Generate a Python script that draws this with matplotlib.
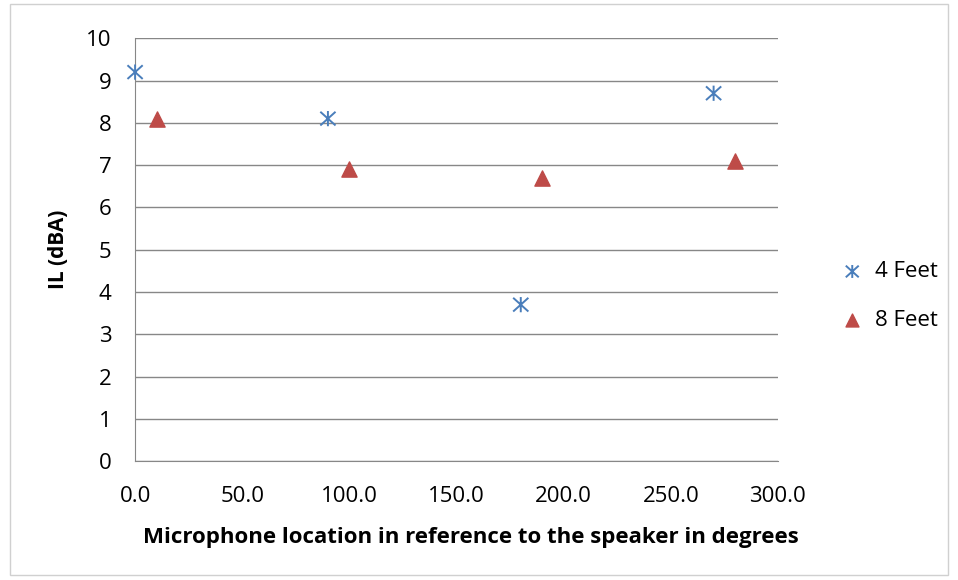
import matplotlib.pyplot as plt
from matplotlib.patches import Rectangle
from matplotlib.path import Path

# IL values
angle_4ft = [0, 90, 180, 270]
il_4ft = [9.2, 8.1, 3.7, 8.7]
angle_8ft = [10, 100, 190, 280]
il_8ft = [8.1, 6.9, 6.7, 7.1]

xticks = [0, 50, 100, 150, 200, 250, 300]
yticks = list(range(0, 11))

plt.rcParams['font.family'] = ['Open Sans', 'DejaVu Sans']

# excel style star: an x with a vertical bar through it
star = Path([(-1, -0.9), (1, 0.9), (-1, 0.9), (1, -0.9), (0, -1), (0, 1)],
            [Path.MOVETO, Path.LINETO, Path.MOVETO, Path.LINETO, Path.MOVETO, Path.LINETO])

fig = plt.figure(figsize=(9.58, 5.8), dpi=100)
ax = fig.add_axes([0.141, 0.205, 0.671, 0.729])

ax.scatter(angle_4ft, il_4ft, marker=star, s=120, facecolor='none', edgecolor='#4a7ebb',
           linewidths=1.4, label='4 Feet', zorder=3, clip_on=False)
ax.scatter(angle_8ft, il_8ft, marker='^', s=120, color='#be4b48',
           label='8 Feet', zorder=3, clip_on=False)

ax.set_xlim(0, 300)
ax.set_ylim(0, 10)
ax.set_xticks(xticks)
ax.set_xticklabels(['%.1f' % v for v in xticks])
ax.set_yticks(yticks)
ax.grid(axis='y', color='#878787', linewidth=1)
ax.set_axisbelow(True)
for s in ['top', 'right']:
    ax.spines[s].set_visible(False)
for s in ['left', 'bottom']:
    ax.spines[s].set_color('#878787')
ax.tick_params(length=0, labelsize=16)
ax.tick_params(axis='x', pad=18)
ax.tick_params(axis='y', pad=17)

ax.set_xlabel('Microphone location in reference to the speaker in degrees',
              fontsize=16, fontweight='bold')
ax.xaxis.set_label_coords(0.523, -0.155)
ax.set_ylabel('IL (dBA)', fontsize=15, fontweight='bold', labelpad=12)

ax.legend(loc='center left', bbox_to_anchor=(1.05, 0.39), frameon=False,
          fontsize=16, handletextpad=0.02, labelspacing=1.25, markerscale=0.85)

fig.patches.append(Rectangle((0.01, 0.008), 0.98, 0.985, transform=fig.transFigure,
                             fill=False, edgecolor='#d0d0d0', linewidth=1))

fig.savefig('out.png', dpi=100)
